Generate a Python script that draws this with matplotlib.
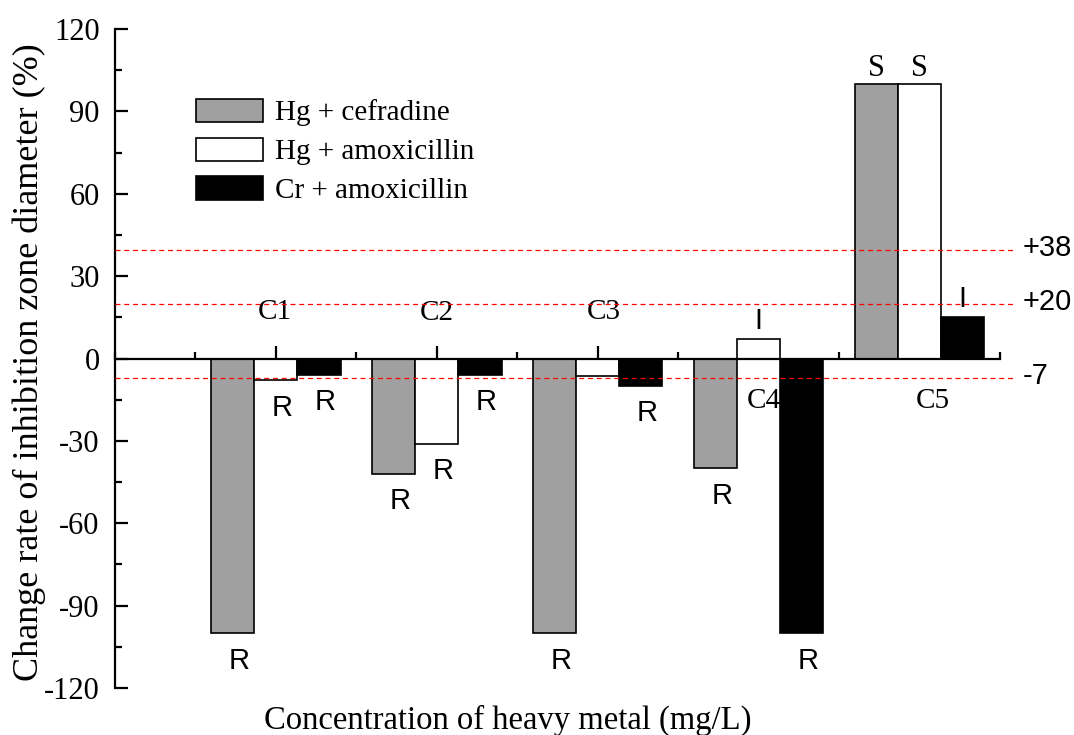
import numpy as np
import matplotlib.pyplot as plt
from matplotlib.ticker import MultipleLocator

plt.rcParams["axes.unicode_minus"] = False

# =========================
# Data
# =========================
groups = ["C1", "C2", "C3", "C4", "C5"]
series = ["Hg + cefradine", "Hg + amoxicillin", "Cr + amoxicillin"]
hg_cef = [-100, -42, -100, -40, 100]
hg_amox = [-8, -31, -6.5, 7, 100]
cr_amox = [-6, -6, -10, -100, 15]
lab_hg_cef = ["R", "R", "R", "R", "S"]
lab_hg_amox = ["R", "R", "", "I", "S"]
lab_cr_amox = ["R", "R", "R", "R", "I"]
thr_pos = [39.7, 20, -7]
thr_labels = ["+38", "+20", "-7"]

colors = ["#a0a0a0", "white", "black"]
SERIF = "Liberation Serif"
SANS = "Liberation Sans"

# =========================
# Figure
# =========================
fig = plt.figure(figsize=(10.74, 7.35), dpi=100)
ax = fig.add_axes([0.1071, 0.0639, 0.9311 - 0.1071, 0.9605 - 0.0639])

x = np.arange(1, len(groups) + 1)
w = 0.268
values = [hg_cef, hg_amox, cr_amox]
labels = [lab_hg_cef, lab_hg_amox, lab_cr_amox]

for i, (vals, labs) in enumerate(zip(values, labels)):
    xs = x + (i - 1) * w
    ax.bar(xs, vals, w, color=colors[i], edgecolor="black", linewidth=1.2,
           label=series[i], zorder=3)
    for xi, v, lab in zip(xs, vals, labs):
        if not lab:
            continue
        if lab == "S":
            ax.text(xi, v + 0.5, lab, ha="center", va="bottom",
                    fontsize=22, family=SERIF)
        elif v >= 0:
            ax.text(xi, v + 1.5, lab, ha="center", va="bottom",
                    fontsize=21, family=SANS)
        else:
            ax.text(xi + 0.04, v - 10, lab, ha="center", va="center",
                    fontsize=21, family=SANS)

# group names (above axis for C1-C3, below for C4-C5)
grp_y = [17, 16.5, 17, -15.5, -15.5]
grp_dx = [-0.01, 0.0, 0.04, 0.03, 0.08]
for xi, g, gy, dx in zip(x, groups, grp_y, grp_dx):
    ax.text(xi + dx, gy, g, ha="center", va="center",
            fontsize=21, family=SERIF)

# threshold lines
for t, tl in zip(thr_pos, thr_labels):
    ax.plot([0, 5.6], [t, t], color="red", ls=(0, (4, 3)), lw=0.9,
            clip_on=False, zorder=5)
    ax.text(5.64, t + 0.5, tl, ha="left", va="center", fontsize=21,
            family=SANS)

# =========================
# Axes
# =========================
ax.set_xlim(0, 5.5)
ax.set_ylim(-120, 120)
ax.spines["top"].set_visible(False)
ax.spines["right"].set_visible(False)
ax.spines["bottom"].set_position(("data", 0))
ax.spines["bottom"].set_linewidth(1.6)
ax.spines["left"].set_linewidth(1.6)
ax.spines["bottom"].set_zorder(4)

ax.set_xticks(x)
ax.set_xticklabels([])
ax.xaxis.set_minor_locator(MultipleLocator(0.5))
ax.yaxis.set_major_locator(MultipleLocator(30))
ax.yaxis.set_minor_locator(MultipleLocator(15))
ax.tick_params(axis="both", which="major", direction="in", length=9.5,
               width=1.6)
ax.tick_params(axis="both", which="minor", direction="in", length=5,
               width=1.6)
ax.tick_params(axis="y", labelsize=22, pad=11)
for lbl in ax.get_yticklabels():
    lbl.set_family(SERIF)

ax.set_ylabel("Change rate of inhibition zone diameter (%)", fontsize=26,
              family=SERIF)
ax.yaxis.set_label_coords(-0.078, 0.494)
ax.set_xlabel("Concentration of heavy metal (mg/L)", fontsize=23.5,
              family=SERIF)
ax.xaxis.set_label_coords(0.444, -0.026)

leg = ax.legend(loc="upper left", bbox_to_anchor=(0.0785, 0.912),
                frameon=False, prop={"family": SERIF, "size": 21},
                handlelength=2.3, handleheight=0.85, labelspacing=0.38,
                handletextpad=0.4, borderaxespad=0)

plt.savefig("out.png", dpi=100)
